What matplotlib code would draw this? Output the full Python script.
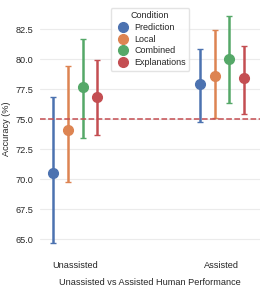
import numpy as np
import matplotlib.pyplot as plt
from matplotlib.lines import Line2D
import seaborn as sns

sns.set_theme(style="whitegrid")
plt.rcParams['font.family'] = ['Liberation Sans', 'DejaVu Sans']

groups = ["Unassisted", "Assisted"]
conditions = ["Prediction", "Local", "Combined", "Explanations"]
# mean accuracy and CI bounds per condition, [Unassisted, Assisted]
means = {
    "Prediction": [70.5, 77.9],
    "Local": [74.1, 78.6],
    "Combined": [77.7, 80.0],
    "Explanations": [76.8, 78.4],
}
ci_low = {
    "Prediction": [64.7, 74.8],
    "Local": [69.8, 75.1],
    "Combined": [73.4, 76.3],
    "Explanations": [73.7, 75.4],
}
ci_high = {
    "Prediction": [76.8, 80.8],
    "Local": [79.4, 82.4],
    "Combined": [81.7, 83.6],
    "Explanations": [79.9, 81.1],
}
baseline = 75.0

colors = sns.color_palette("deep", 4)

fig = plt.figure(figsize=(2.6, 2.95), dpi=100)
ax = fig.add_axes([0.154, 0.1525, 0.846, 0.8203])

x = np.arange(len(groups))
offsets = np.array([-1.5, -0.5, 0.5, 1.5]) * 0.1
handles = []
for i, cond in enumerate(conditions):
    m = np.array(means[cond])
    lo = m - np.array(ci_low[cond])
    hi = np.array(ci_high[cond]) - m
    ax.errorbar(x + offsets[i], m, yerr=[lo, hi], fmt='o', color=colors[i],
                markersize=7, elinewidth=1.8, capsize=2.5, capthick=1.0)
    handles.append(Line2D([], [], marker='o', linestyle='', color=colors[i],
                          markersize=7, label=cond))

ax.axhline(baseline, color='#c44e52', linestyle='--', linewidth=1.1)

ax.set_xticks(x)
ax.set_xticklabels(groups)
ax.set_xlim(-0.24, 1.26)
ax.set_ylim(64.1, 84.25)
ax.set_yticks(np.arange(65, 83, 2.5))
ax.tick_params(axis='y', labelsize=6.6, length=0, pad=5)
ax.tick_params(axis='x', labelsize=6.6, length=0, pad=8)
ax.set_ylabel("Accuracy (%)", fontsize=6.6, labelpad=3)
ax.set_xlabel("Unassisted vs Assisted Human Performance", fontsize=6.6, labelpad=6)
ax.grid(axis='x', visible=False)
ax.grid(axis='y', color='#ebebeb', linewidth=0.8)
for s in ax.spines.values():
    s.set_visible(False)

leg = ax.legend(handles=handles, title="Condition", loc='upper center',
                bbox_to_anchor=(0.5, 1.02), fontsize=6.5, title_fontsize=6.5,
                handletextpad=0.2, borderpad=0.4, labelspacing=0.3, frameon=True)
leg.get_frame().set_edgecolor('#dddddd')

fig.savefig("out.png", dpi=100)
